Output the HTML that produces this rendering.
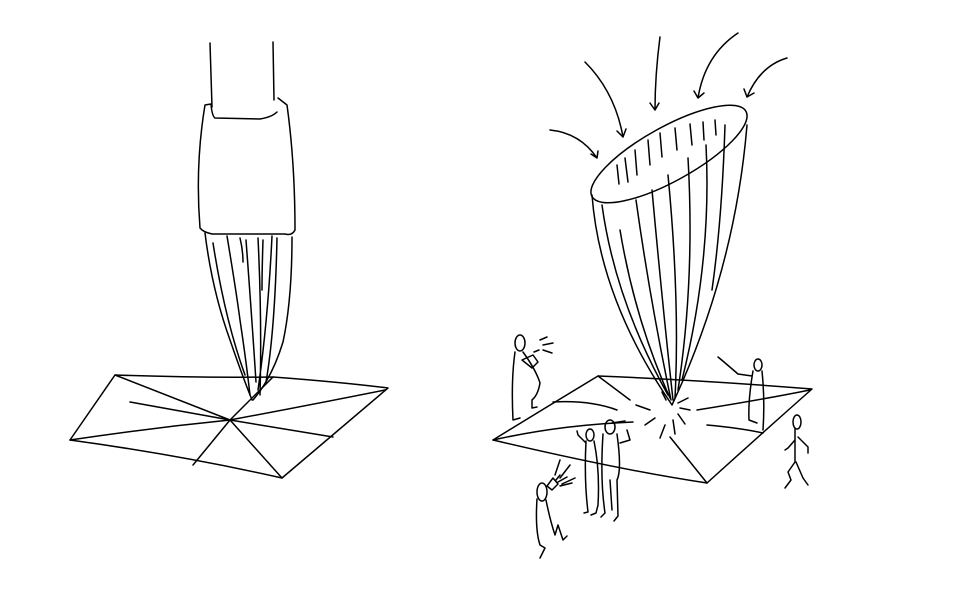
<!DOCTYPE html>
<html><head><style>body{margin:0;background:#fff}svg{display:block}</style></head><body>
<svg width="960" height="590" viewBox="0 0 960 590" fill="none" stroke="#000" stroke-width="1.5" stroke-linecap="round" stroke-linejoin="round">
<!-- LEFT brush -->
<path d="M210 43 L212 107 M273 42 L274 100"/>
<path d="M278 98 L287 105 Q295 163 295 230 Q292 236 285 234 L212 234 Q203 232 200 228 Q195 165 205 105 L211 104 Q212 116 215 118 L260 119 Q272 117 277 112"/>
<path d="M205 233 Q212 290 230 340 Q242 375 252 400 M292 237 Q292 300 283 342 Q272 378 253 400"/>
<path d="M213 243 Q225 320 245 375 M227 236 Q236 290 240 320 Q246 360 250 395 M240 238 Q243 250 243 262 M246 240 Q252 320 256 382 M258 238 Q262 320 260 395 M263 240 Q262 270 262 290 M272 236 Q268 320 258 390 M277 238 Q275 330 266 382"/>
<path d="M115 375 Q200 378 273 377 Q340 382 388 388 L282 478 Q180 455 70 440 Z"/>
<path d="M115 375 L230 420 L282 478 M273 377 L230 420 L193 465 M130 402 L230 420 L333 437 M70 440 Q150 428 230 420 Q310 405 385 390"/>
<!-- RIGHT arrows -->
<path d="M550 130 Q580 133 597 158 M591 154 L597 158 L598 151"/>
<path d="M585 62 Q615 92 623 137 M617 131 L623 137 L626 129"/>
<path d="M660 37 Q655 75 655 110 M650 103 L655 110 L659 103"/>
<path d="M738 33 Q705 55 698 98 M694 91 L698 98 L704 93"/>
<path d="M787 58 Q760 66 747 97 M744 89 L747 97 L754 93"/>
<!-- cone -->
<ellipse cx="669" cy="154" rx="88" ry="27" transform="rotate(-29 669 154)"/>
<path d="M592 195 Q600 300 672 405 M747 125 Q735 270 672 405"/>
<path d="M602 205 Q615 300 668 395 M620 230 Q635 320 670 398 M636 200 Q650 300 671 400 M652 190 Q662 300 673 400 M668 175 Q680 300 675 398 M688 158 Q695 280 678 390 M706 145 Q712 260 682 380 M725 125 Q722 220 712 290"/>
<path d="M617 165 L619 184 M625 158 L628 182 M635 150 L637 175 M648 140 L650 165 M660 133 L662 157 M675 128 L677 150 M690 124 L692 145 M703 122 L704 140 M715 120 L716 135"/>
<!-- right mat -->
<path d="M598 376 Q700 380 812 389 Q760 435 707 483 Q620 470 493 440 Q545 408 598 376 Z"/>
<path d="M598 376 L630 400 M553 402 Q590 400 617 410 M493 440 Q560 425 633 422 M697 410 Q760 400 810 390 M707 425 Q740 428 763 433 M707 483 L670 437"/>
<path d="M636 405 L650 410 M645 425 L655 418 M660 438 L665 425 M675 434 L673 420 M685 424 L678 414 M690 410 L680 408 M688 398 L678 403 M662 392 L666 400 M612 423 L625 421"/>
<!-- people -->
<ellipse cx="520" cy="343" rx="5" ry="8"/>
<path d="M515 352 Q511 380 513 420 L520 418 M523 352 Q536 370 540 383 Q538 395 532 400 L532 408 L537 407 M522 360 L533 355 L538 362 L532 368 Z M534 352 L539 350 M540 340 L547 337 M543 345 L553 343 M543 350 L552 353"/>
<ellipse cx="758" cy="365" rx="4" ry="6"/>
<path d="M753 371 Q748 400 749 420 L757 423 M762 371 Q765 400 763 430 M752 376 L738 374 L724 362 L718 357"/>
<ellipse cx="797" cy="422" rx="4" ry="7"/>
<path d="M795 429 L795 462 L788 472 L791 480 L785 488 M796 462 L803 478 L808 485 M795 440 L788 448 L785 450 M798 437 L808 447 L808 453"/>
<ellipse cx="590" cy="435" rx="4" ry="6"/>
<path d="M586 441 Q584 480 588 512 L584 513 M594 441 Q600 470 598 505 L596 513 L591 515 M586 443 L578 435 L577 431"/>
<ellipse cx="610" cy="427" rx="5" ry="7"/>
<path d="M603 434 Q600 480 605 513 L601 517 M617 434 Q622 470 617 480 L618 516 L614 521 M620 443 L630 440 L627 430 M610 480 L612 510"/>
<ellipse cx="542" cy="492" rx="5" ry="9"/>
<path d="M537 499 Q535 530 540 545 L545 548 L540 558 M546 500 Q550 520 555 535 L558 525 L563 540 L567 536 M547 486 L553 478 L558 484 L552 490 Z M556 480 L560 475 M558 482 L567 477 M560 486 L572 483 M555 475 L560 460 M560 478 L570 465 M562 484 L575 478"/>
</svg>
</body></html>
